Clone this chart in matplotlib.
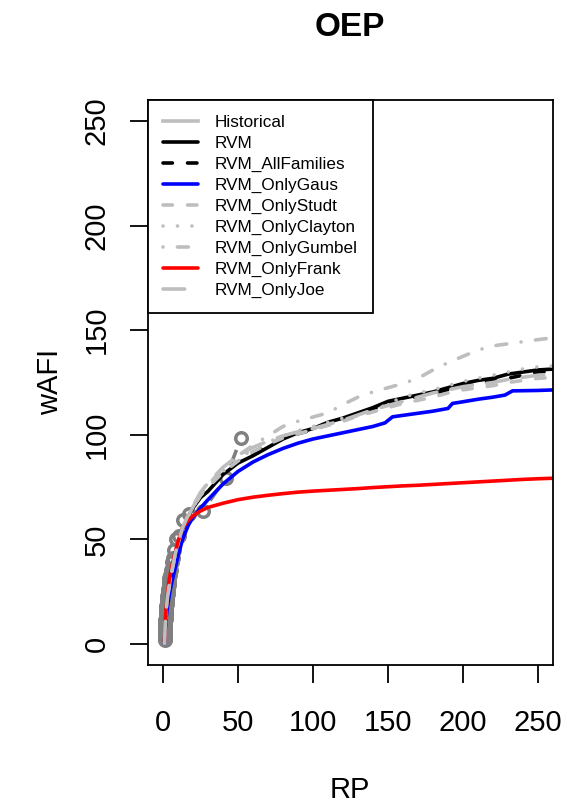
import matplotlib
matplotlib.use('Agg')
import matplotlib.pyplot as plt
from matplotlib.lines import Line2D
import numpy as np

plt.rcParams['font.family'] = ['Liberation Sans', 'DejaVu Sans']

# historical events, largest first
hist_rp = [52, 42, 26.5, 17.3, 13.0, 10.4, 8.67, 7.43, 6.5, 5.78, 5.2, 4.73, 4.33,
           4.0, 3.71, 3.47, 3.25, 3.06, 2.89, 2.74, 2.6, 2.48, 2.36,
           2.26, 2.17, 2.08, 2.0, 1.93, 1.86, 1.79, 1.73, 1.68, 1.63,
           1.58, 1.53, 1.49, 1.44, 1.41, 1.37, 1.33, 1.3, 1.27, 1.24,
           1.21, 1.18, 1.16, 1.13, 1.11, 1.08, 1.06, 1.04, 1.02, 1.0]
hist_wafi = [98.6, 79.5, 63.5, 62.0, 59.5, 51.5, 50.0, 45.0, 41.0, 39.0, 35.5, 33.0, 31.5,
             29.5, 28.0, 26.5, 25.0, 24.0, 23.0, 22.0, 21.0, 20.0, 19.0,
             18.2, 17.5, 16.6, 15.8, 15.0, 14.2, 13.5, 12.8, 12.2, 11.6,
             11.0, 10.4, 9.8, 9.2, 8.7, 8.2, 7.6, 7.1, 6.6, 6.1,
             5.6, 5.2, 4.8, 4.4, 4.0, 3.6, 3.2, 2.8, 2.4, 2.0]

rp_grid = [1, 1.5, 2, 3, 4, 5, 6, 8, 10, 13, 17, 20, 25, 30, 40, 50, 60, 70, 80, 90,
           100, 110, 120, 130, 140, 150, 160, 170, 180, 190, 200, 210, 220, 230, 240, 250, 262]

rvm = [0.5, 9, 15, 22, 27, 31, 35, 42, 48, 55, 61, 65, 70, 73, 81, 86.5, 90, 94, 98, 101,
       103, 106, 108, 110.5, 113, 116, 117.5, 119, 120.5, 122.5, 124.5, 126, 127, 129, 130, 131, 131.5]
rvm_all = [0.5, 9, 15, 22, 27, 31, 35, 42, 48, 55, 61, 65, 70.5, 74, 81.5, 87, 91, 95, 98.5, 100.5,
           102.5, 105, 107.5, 110, 112.5, 114.5, 116.5, 118.5, 120, 121.5, 123, 124.5, 125.5, 127, 128.5, 130, 130.5]
rp_gaus = [1, 1.5, 2, 3, 4, 5, 6, 8, 10, 13, 17, 20, 25, 30, 40, 50, 60, 70, 80, 90,
           100, 110, 120, 130, 140, 148, 153, 160, 170, 180, 190, 193, 200, 210, 220, 228, 233, 250, 262]
rvm_gaus = [0.3, 7, 12, 18, 22.5, 26.5, 30, 36, 42, 50, 57, 60.5, 65, 69, 76.5, 82.5, 87, 90.5, 93.5, 96,
            98, 99.5, 101, 102.5, 104, 105.7, 108.6, 109.3, 110.3, 111.3, 112.6, 115.0, 115.8, 117, 118, 119, 121, 121.2, 121.5]
rvm_studt = [0.5, 9, 15, 22, 27, 31, 35, 42, 48, 55, 61, 65, 71, 75, 82, 87.5, 92, 95.5, 98.5, 100.5,
             102.5, 104.5, 106.5, 109, 111, 113, 115, 116.5, 118, 120, 121.5, 122.5, 123.5, 125, 126, 127, 127.5]
rvm_clayton = [0.5, 9, 15, 22, 27, 31.5, 35, 42, 48, 55, 61, 65, 71.5, 75.5, 82.5, 88.5, 93, 96.5, 99.5, 102,
               104, 106, 108, 109, 111, 115, 118, 120, 121.5, 123.5, 125.5, 127, 128.5, 130, 131.5, 132.5, 133]
rvm_gumbel = [0.5, 9.5, 15.5, 22.5, 27.5, 32, 35.5, 42.5, 48.5, 55.5, 61.5, 65.5, 71.5, 76, 84, 90, 95, 99.5, 104, 106.5,
              108.5, 110.5, 114.5, 118, 120.5, 122.5, 124.5, 127, 131, 134.5, 137.5, 140.5, 142.5, 143.5, 144.5, 145.5, 146.5]
rvm_frank = [1, 10, 16, 24, 30, 34, 37.5, 43.5, 49, 55.5, 59.3, 61.3, 63.6, 65.3, 67.3, 69, 70.2, 71.1, 71.9, 72.6,
             73.1, 73.5, 73.9, 74.3, 74.8, 75.2, 75.6, 75.9, 76.3, 76.7, 77.1, 77.5, 77.9, 78.3, 78.7, 79.0, 79.3]
rvm_joe = [0.5, 9.5, 15.5, 22.5, 27.5, 31.5, 35.5, 42.5, 48.5, 55.5, 62, 66, 72.5, 77, 84.5, 90, 94, 97, 99.5, 101.5,
           103, 105, 107, 109.5, 112, 114, 116, 118, 120, 121.5, 123, 124, 125, 126.5, 127.5, 128.5, 129]

ticks = [0, 50, 100, 150, 200, 250]

GRAY = '#BEBEBE'
DARK = '#808080'
LW = 2.6


def lines_type_b(ax, xs, ys, gap_px, **kw):
    # R style type="b": segments stop short of each point
    pts = ax.transData.transform(np.column_stack([xs, ys]))
    inv = ax.transData.inverted()
    for p0, p1 in zip(pts[:-1], pts[1:]):
        d = np.hypot(*(p1 - p0))
        if d <= 2 * gap_px:
            continue
        u = (p1 - p0) / d
        seg = inv.transform(np.array([p0 + u * gap_px, p1 - u * gap_px]))
        ax.plot(seg[:, 0], seg[:, 1], **kw)


fig = plt.figure(figsize=(5.67, 8.05), dpi=100)
ax = fig.add_axes([148 / 567, 1 - 665 / 805, 405 / 567, 565 / 805])
ax.set_xlim(-10, 260)
ax.set_ylim(-10, 260)

ax.plot(hist_rp, hist_wafi, 'o', mfc='none', mec=DARK, ms=8.3, mew=2.5)
lines_type_b(ax, hist_rp, hist_wafi, 13, color=DARK, lw=LW, solid_capstyle='butt')

series = [
    (rp_grid, rvm, 'black', '-', 'RVM'),
    (rp_grid, rvm_all, 'black', (0, (2.6, 4.2)), 'RVM_AllFamilies'),
    (rp_gaus, rvm_gaus, 'blue', '-', 'RVM_OnlyGaus'),
    (rp_grid, rvm_studt, GRAY, (0, (2.6, 4.2)), 'RVM_OnlyStudt'),
    (rp_grid, rvm_clayton, GRAY, (0, (0.01, 4)), 'RVM_OnlyClayton'),
    (rp_grid, rvm_gumbel, GRAY, (0, (0.01, 4, 3, 4)), 'RVM_OnlyGumbel'),
    (rp_grid, rvm_frank, 'red', '-', 'RVM_OnlyFrank'),
    (rp_grid, rvm_joe, GRAY, (0, (6, 4)), 'RVM_OnlyJoe'),
]
handles = [Line2D([], [], color=GRAY, lw=LW, label='Historical')]
for x, y, c, ls, lab in series:
    ln, = ax.plot(x, y, color=c, ls=ls, lw=LW, label=lab,
                  dash_capstyle='round', solid_capstyle='round', solid_joinstyle='round')
    handles.append(ln)

leg = ax.legend(handles=handles, loc='upper left', bbox_to_anchor=(0, 1), borderaxespad=0,
                fontsize=12.3, fancybox=False, framealpha=1, edgecolor='black',
                handlelength=2.05, handletextpad=0.95, labelspacing=0.34, borderpad=0.9)
leg.get_frame().set_linewidth(1.3)

ax.set_xticks(ticks)
ax.set_yticks(ticks)
ax.set_yticklabels([str(t) for t in ticks], rotation=90, va='center')
ax.tick_params(axis='both', length=13, width=1.3, labelsize=21)
ax.tick_params(axis='x', pad=18.5)
ax.tick_params(axis='y', pad=14)
for s in ax.spines.values():
    s.set_linewidth(1.3)

fig.text(350 / 567, 1 - 27 / 805, 'OEP', fontsize=24, fontweight='bold', ha='center', va='center')
fig.text(350 / 567, 1 - 790 / 805, 'RP', fontsize=21, ha='center', va='center')
fig.text(50 / 567, 1 - 382 / 805, 'wAFI', fontsize=21, ha='center', va='center', rotation=90)

fig.savefig('out.png', dpi=100)
